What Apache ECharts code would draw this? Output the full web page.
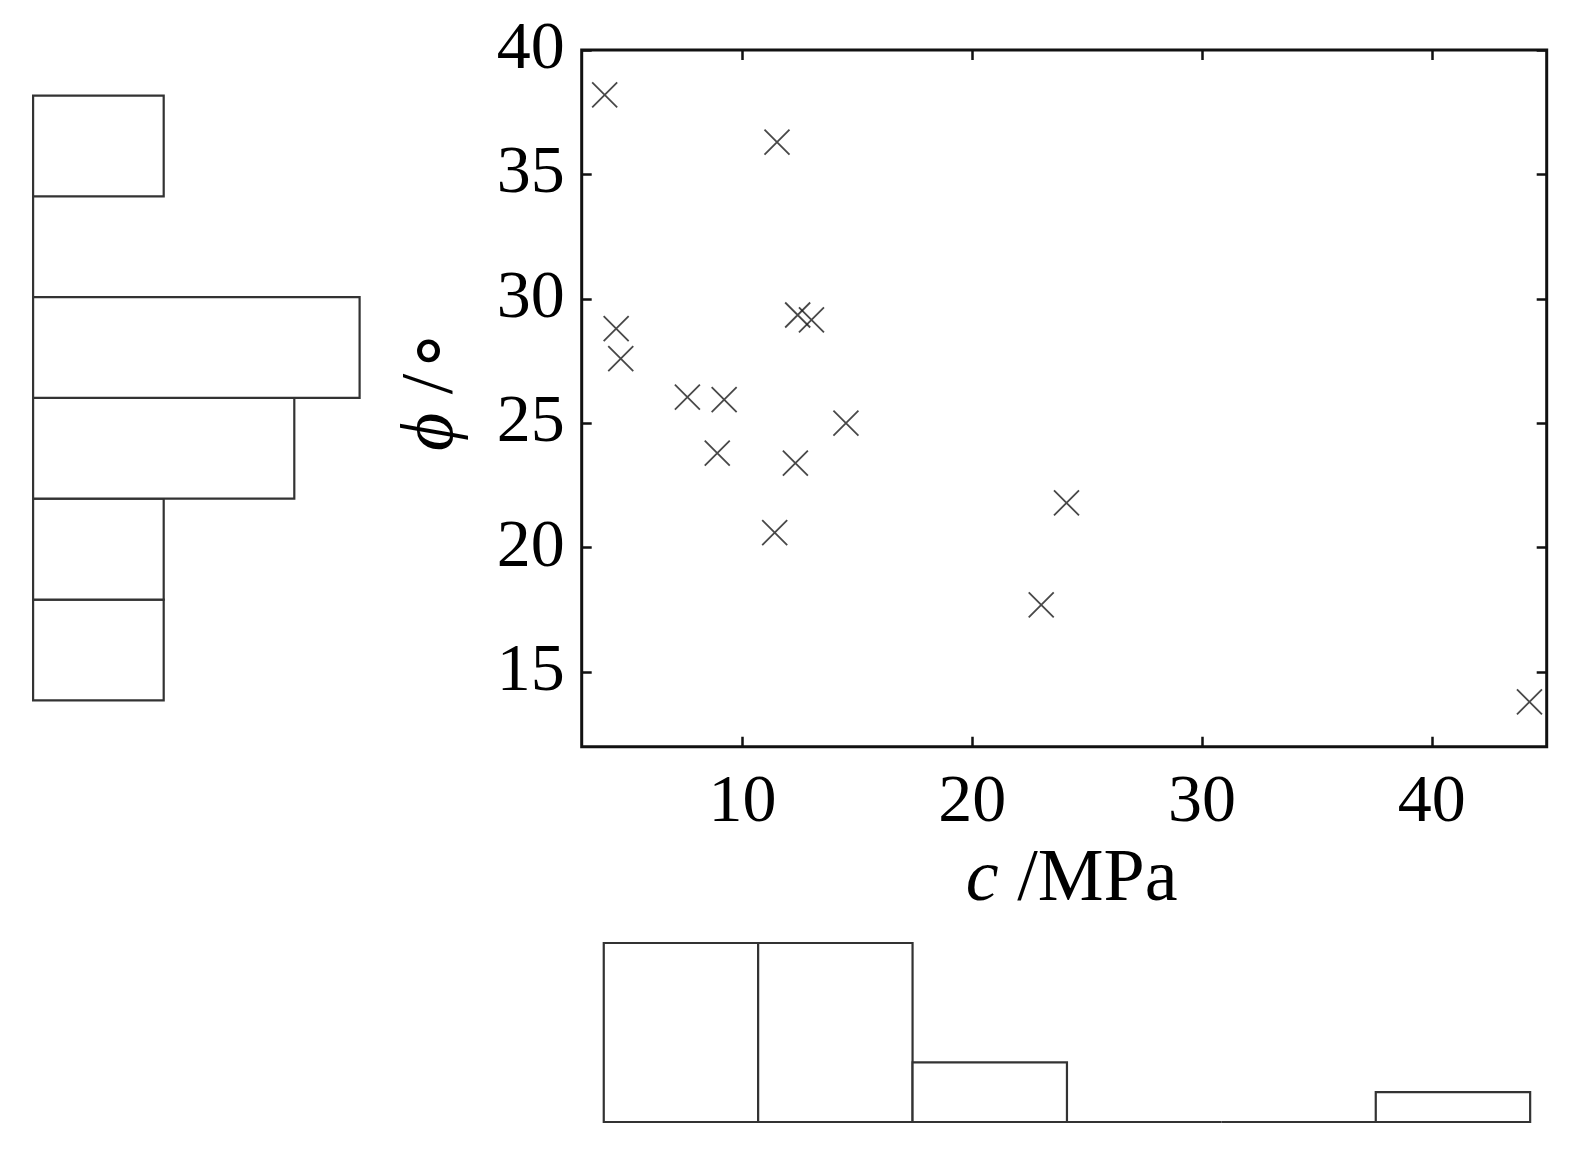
<!DOCTYPE html>
<html>
<head>
<meta charset="utf-8">
<script src="https://cdn.jsdelivr.net/npm/echarts@6/dist/echarts.min.js"></script>
<style>
html,body{margin:0;padding:0;background:#fff;}
#main{width:1575px;height:1158px;}
</style>
</head>
<body>
<div id="main"></div>
<script>
// Scatter data: cohesion c (MPa) and friction angle phi (deg)
const cValues   = [4.0, 11.5, 4.5, 4.7, 12.4, 13.0, 7.6, 9.2, 14.5, 8.9, 12.3, 11.4, 24.1, 23.0, 44.25];
const phiValues = [38.2, 36.3, 28.8, 27.6, 29.35, 29.15, 26.05, 25.95, 25.0, 23.8, 23.4, 20.6, 21.8, 17.7, 13.8];

// Marginal histogram of c (bottom)
const cBinEdges = [3.96, 10.68, 17.40, 24.12, 30.84, 37.56, 44.28];
const cCounts   = [6, 6, 2, 0, 0, 1];

// Marginal histogram of phi (left)
const phiBinEdges = [13.86, 17.91, 21.97, 26.02, 30.07, 34.12, 38.17];
const phiCounts   = [2, 2, 4, 5, 0, 2];

// Tick labels
const xTicks = [10, 20, 30, 40];
const yTicks = [15, 20, 25, 30, 35, 40];

const SERIF = 'Liberation Serif, Times New Roman, serif';
const AX = '#111';
const HIST = '#333';

const scatterData = cValues.map((c, i) => [c, phiValues[i]]);
const phiHistData = phiCounts.map((n, i) => [n, phiBinEdges[i], phiBinEdges[i + 1]]);
const cHistData = cCounts.map((n, i) => [cBinEdges[i], cBinEdges[i + 1], n]);

const G = {left: 581.7, top: 50, width: 965, height: 696.7};

const chart = echarts.init(document.getElementById('main'), null, {renderer: 'canvas'});

const tickStyle = {show: true, inside: true, length: 10, lineStyle: {color: AX, width: 2.5}};

chart.setOption({
  backgroundColor: '#fff',
  animation: false,
  grid: [
    {left: G.left, top: G.top, width: G.width, height: G.height, show: true,
     borderColor: AX, borderWidth: 3, backgroundColor: 'transparent', containLabel: false},
    {left: 33.1, top: G.top, width: 326.5, height: G.height, show: false},
    {left: G.left, top: 943, width: G.width, height: 179, show: false}
  ],
  xAxis: [
    {gridIndex: 0, type: 'value', min: 3, max: 45, position: 'bottom',
     axisLine: {show: false}, splitLine: {show: false},
     axisTick: Object.assign({customValues: xTicks}, tickStyle),
     axisLabel: {customValues: xTicks, margin: 22, fontFamily: SERIF, fontSize: 68, color: '#000'},
     name: '{i|c} /MPa', nameLocation: 'middle', nameGap: 97,
     nameTextStyle: {fontFamily: SERIF, fontSize: 74, color: '#000', padding: [0, 0, 0, 15],
       rich: {i: {fontFamily: SERIF, fontSize: 74, fontStyle: 'italic', color: '#000'}}}},
    {gridIndex: 0, type: 'value', min: 3, max: 45, position: 'top',
     axisLine: {show: false}, splitLine: {show: false},
     axisTick: Object.assign({customValues: xTicks}, tickStyle),
     axisLabel: {show: false}},
    {gridIndex: 1, type: 'value', min: 0, max: 5, show: false},
    {gridIndex: 2, type: 'value', min: 3, max: 45, show: false}
  ],
  yAxis: [
    {gridIndex: 0, type: 'value', min: 12, max: 40, position: 'left',
     axisLine: {show: false}, splitLine: {show: false},
     axisTick: Object.assign({customValues: yTicks}, tickStyle),
     axisLabel: {customValues: yTicks, margin: 17, fontFamily: SERIF, fontSize: 68, color: '#000'},
     name: '{i|\u03D5} /\u2218', nameLocation: 'middle', nameGap: 112, nameRotate: 90,
     nameTextStyle: {fontFamily: SERIF, fontSize: 74, color: '#000', padding: [0, 0, 0, 18],
       rich: {i: {fontFamily: SERIF, fontSize: 74, fontStyle: 'italic', color: '#000'}}}},
    {gridIndex: 0, type: 'value', min: 12, max: 40, position: 'right',
     axisLine: {show: false}, splitLine: {show: false},
     axisTick: Object.assign({customValues: yTicks}, tickStyle),
     axisLabel: {show: false}},
    {gridIndex: 1, type: 'value', min: 12, max: 40, show: false},
    {gridIndex: 2, type: 'value', min: 0, max: 6, show: false}
  ],
  series: [
    {
      type: 'scatter', xAxisIndex: 0, yAxisIndex: 0,
      data: scatterData,
      symbol: 'path://M0,0L20,20M20,0L0,20',
      symbolSize: 25,
      itemStyle: {color: 'rgba(0,0,0,0)', borderColor: '#1a1a1a', borderWidth: 1.8},
      silent: true
    },
    {
      type: 'custom', xAxisIndex: 2, yAxisIndex: 2,
      data: phiHistData,
      renderItem: function (params, api) {
        const p0 = api.coord([0, api.value(2)]);
        const p1 = api.coord([api.value(0), api.value(1)]);
        return {type: 'rect',
          shape: {x: p0[0], y: p0[1], width: p1[0] - p0[0], height: p1[1] - p0[1]},
          style: {fill: '#fff', stroke: HIST, lineWidth: 2.2}};
      },
      silent: true
    },
    {
      type: 'custom', xAxisIndex: 3, yAxisIndex: 3,
      data: cHistData,
      renderItem: function (params, api) {
        const p0 = api.coord([api.value(0), api.value(2)]);
        const p1 = api.coord([api.value(1), 0]);
        return {type: 'rect',
          shape: {x: p0[0], y: p0[1], width: p1[0] - p0[0], height: p1[1] - p0[1]},
          style: {fill: '#fff', stroke: HIST, lineWidth: 2.2}};
      },
      silent: true
    }
  ]
});
</script>
</body>
</html>
